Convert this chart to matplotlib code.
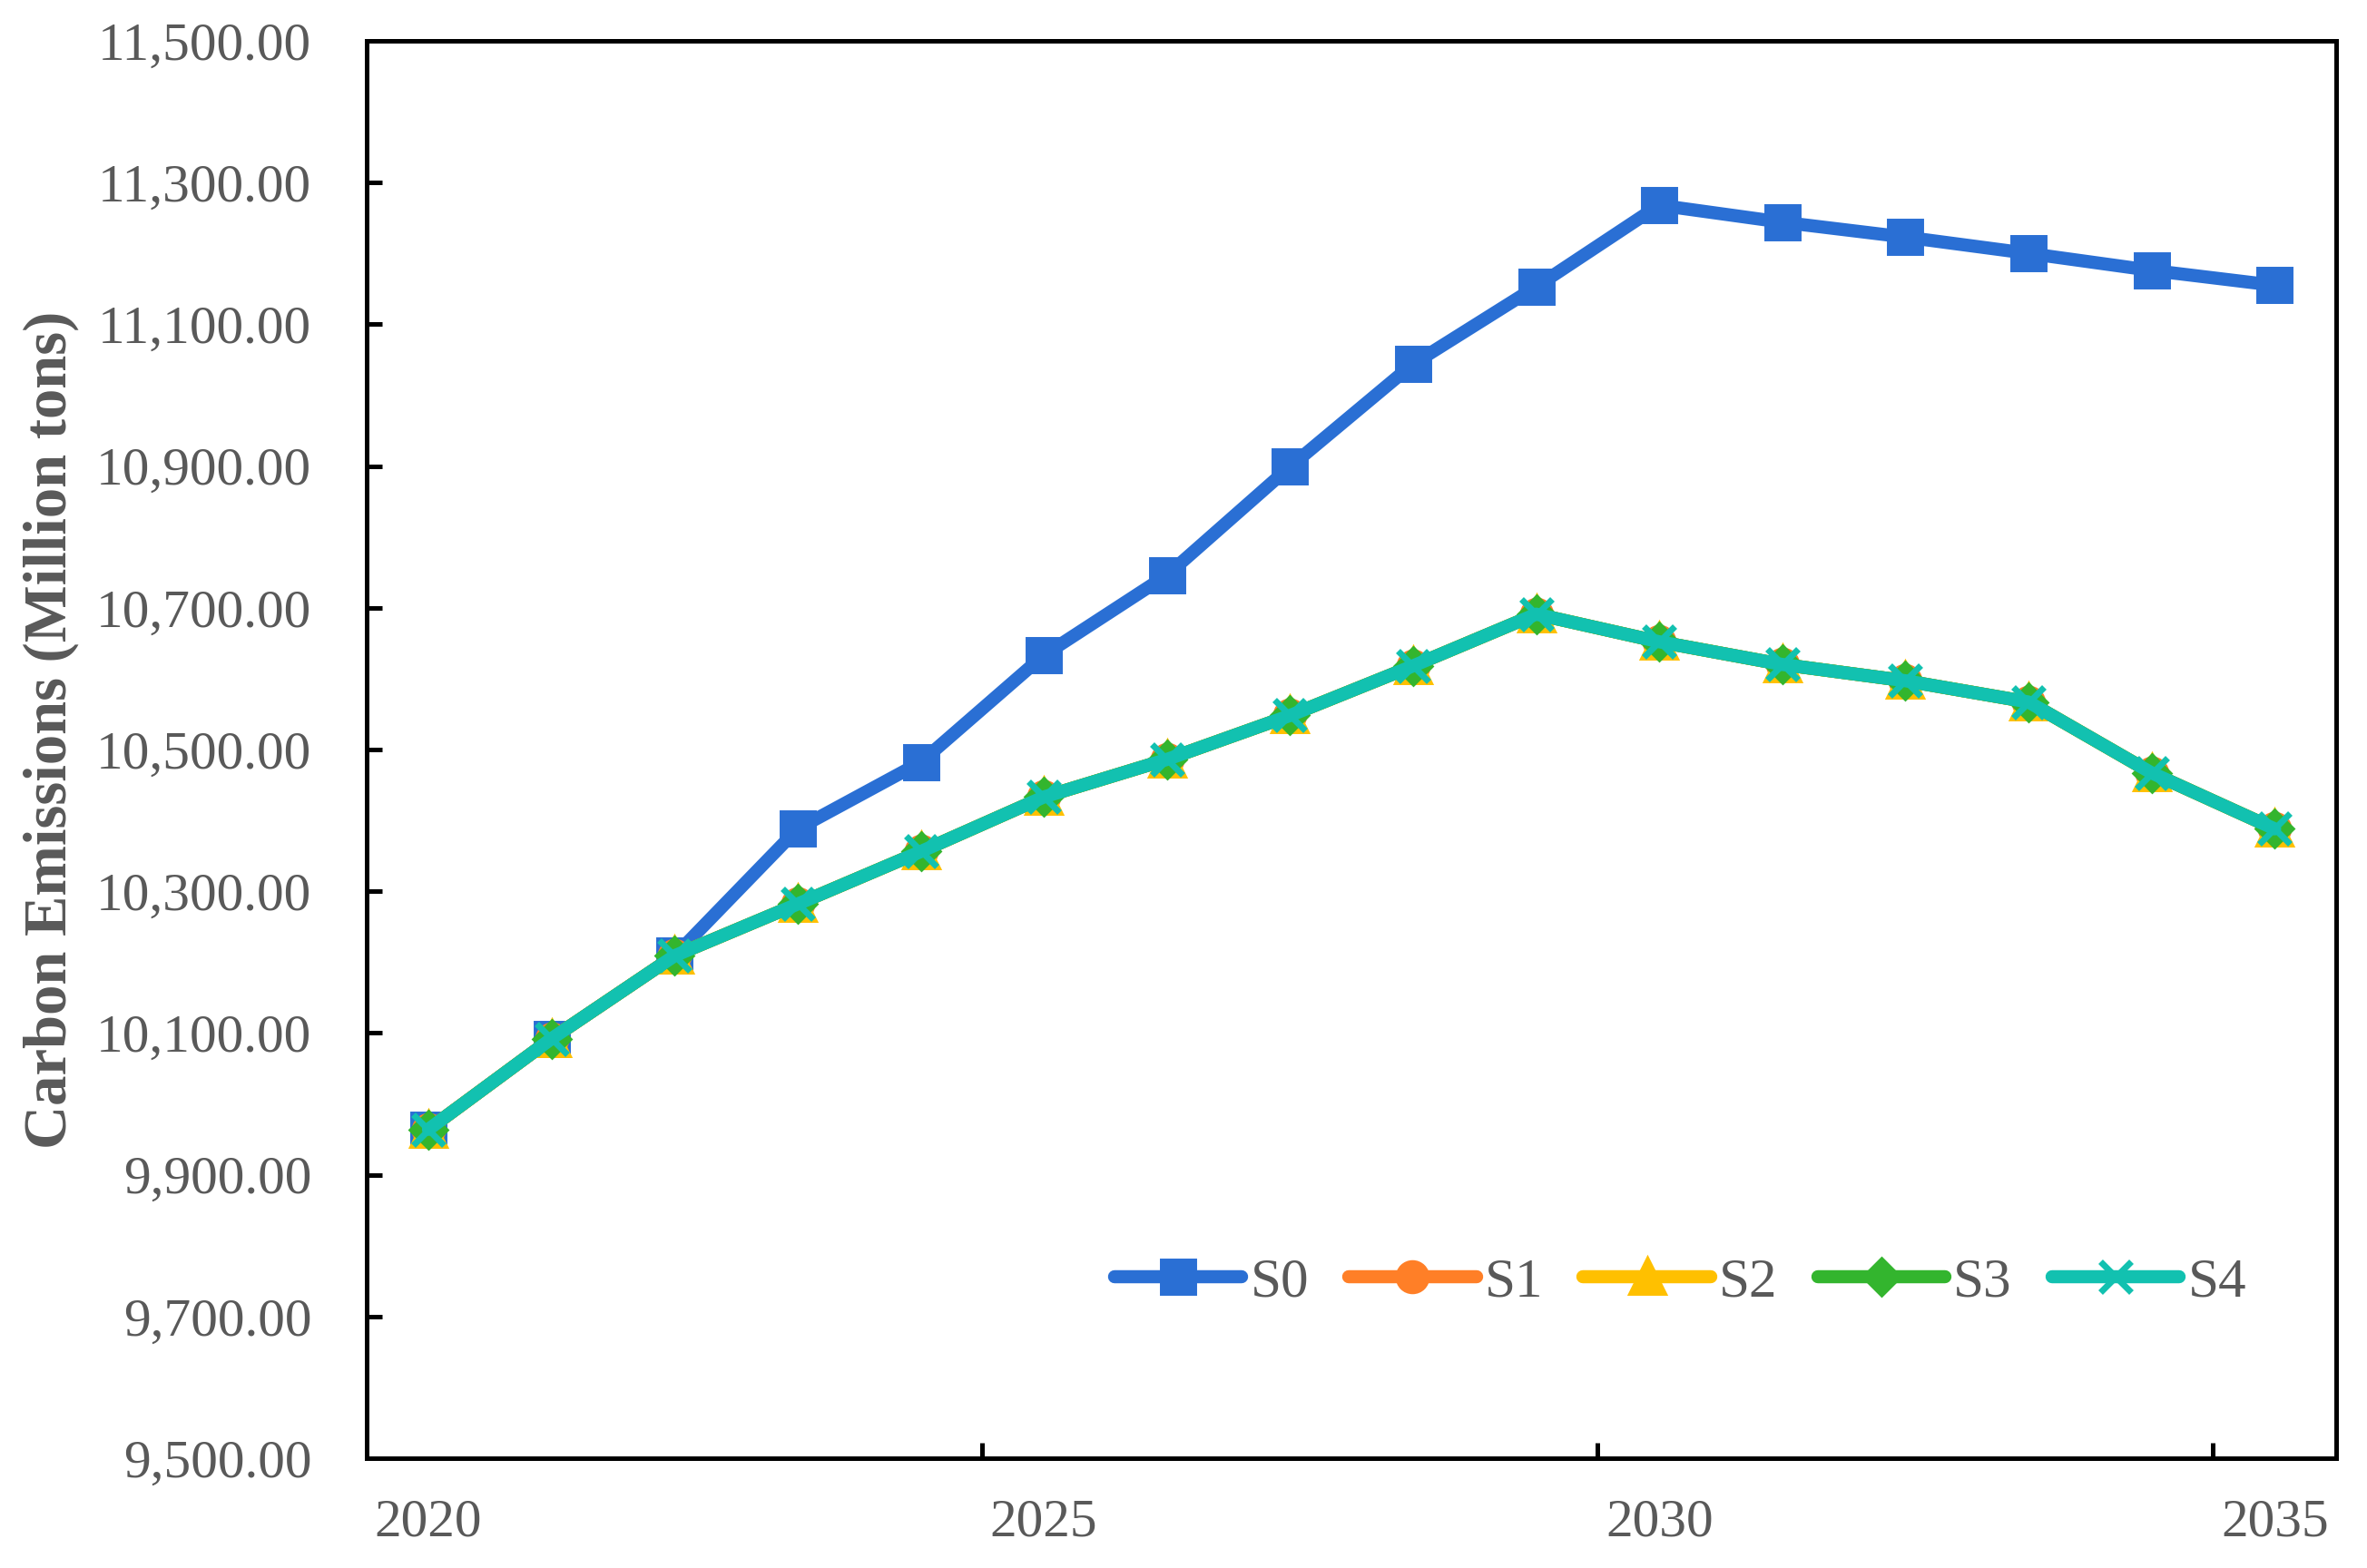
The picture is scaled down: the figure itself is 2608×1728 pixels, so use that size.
import numpy as np
import matplotlib.pyplot as plt

# Datos (millones de toneladas)
years = list(range(2020, 2036))
s0 = [9964, 10092, 10209, 10388, 10482, 10633, 10746, 10899, 11044, 11153,
      11268, 11244, 11223, 11200, 11176, 11155]
s_low = [9964, 10092, 10209, 10282, 10356, 10433, 10486, 10548, 10618, 10691,
         10652, 10620, 10597, 10567, 10467, 10388]
s1 = s_low
s2 = s_low
s3 = s_low
s4 = s_low

series_names = ['S0', 'S1', 'S2', 'S3', 'S4']
series_vals = [s0, s1, s2, s3, s4]
colors = ['#2A6FD4', '#FF7F27', '#FFC000', '#33B52E', '#12C1B0']
markers = ['s', 'o', '^', 'D', 'x']
msizes = [12, 11, 12, 9, 12]

gray = '#595959'
plt.rcParams['font.family'] = ['Liberation Serif', 'DejaVu Serif']

fig, ax = plt.subplots(figsize=(13.04, 8.64), dpi=200)
plt.subplots_adjust(left=0.155, right=0.987, top=0.974, bottom=0.070)

x = np.arange(len(years))
for name, vals, c, m, ms in zip(series_names, series_vals, colors, markers, msizes):
    ax.plot(x, vals, color=c, lw=5.2, marker=m, ms=ms, mew=2.5,
            solid_capstyle='round', label=name)

ax.set_xlim(-0.5, len(years) - 0.5)
ax.set_ylim(9500, 11500)

# Eje x: etiquetas cada 5 años, marcas entre categorias
ax.set_xticks([0, 5, 10, 15])
ax.set_xticklabels([str(years[i]) for i in [0, 5, 10, 15]])
ax.set_xticks([4.5, 9.5, 14.5], minor=True)
ax.tick_params(axis='x', which='major', length=0, pad=16, labelsize=21.4, labelcolor=gray)
ax.tick_params(axis='x', which='minor', direction='in', length=6, width=1.8)

yt = np.arange(9500, 11501, 200)
ax.set_yticks(yt)
ax.set_yticklabels([f'{v:,.2f}' for v in yt])
ax.tick_params(axis='y', direction='in', length=6, width=1.8, pad=22,
               labelsize=21.4, labelcolor=gray)

for sp in ax.spines.values():
    sp.set_linewidth(1.8)
    sp.set_color('black')

ax.set_ylabel('Carbon Emissions (Million tons)', fontsize=24, fontweight='bold',
              color=gray)
ax.yaxis.set_label_coords(-0.146, 0.514)

leg = ax.legend(loc='center', bbox_to_anchor=(0.667, 0.124), ncol=5, frameon=False,
                fontsize=22, handlelength=2.3, handletextpad=0.15,
                columnspacing=0.72, borderpad=0)
for t in leg.get_texts():
    t.set_color(gray)

plt.savefig('out.png', dpi=200)
